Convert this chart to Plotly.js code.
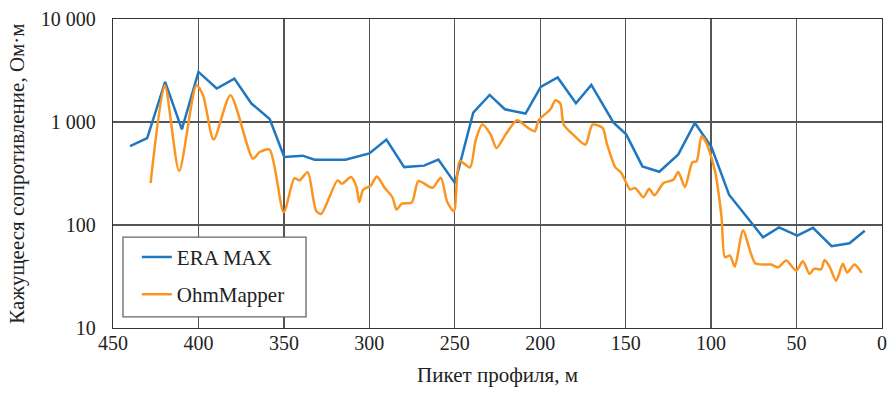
<!DOCTYPE html>
<html>
<head>
<meta charset="utf-8">
<script src="https://cdn.plot.ly/plotly-3.0.1.min.js"></script>
<style>html,body{margin:0;padding:0;background:#fff;}#chart{width:889px;height:396px;}</style>
</head>
<body>
<div id="chart"></div>
<script>
// ERA MAX
const eraX = [440, 430, 419.5, 409.7, 400, 389.3, 379, 369, 358.3, 349.8, 339, 332, 314, 300, 290, 279.6, 268, 259.6, 249.9, 239.2, 229.6, 220.7, 208.6, 199.7, 189.8, 179.1, 170.1, 157.1, 149.7, 140.2, 130.3, 119.2, 109.5, 99.8, 89.5, 69.6, 60.3, 49.6, 40.4, 29.5, 19, 10.1];
const eraY = [584, 699, 2450, 849, 3063, 2113, 2642, 1511, 1069, 457, 471, 431, 431, 496, 675, 365, 377, 431, 255, 1234, 1832, 1329, 1207, 2190, 2704, 1520, 2292, 987, 759, 371, 329, 485, 978, 571, 197, 76, 94.6, 79, 94, 62.2, 66.5, 88];

// OhmMapper
const ohmX = [428.0, 419.7, 411.3, 401.2, 397.3, 391.1, 381.3, 368.1, 364.2, 358.4, 350.1, 343.8, 340.9, 336.1, 331.2, 328.2, 318.6, 316, 310.7, 307.5, 305.9, 303.6, 299.1, 295.6, 291.3, 286.5, 284.1, 281, 275.1, 271.3, 263.1, 258.2, 254.4, 250.5, 247.1, 241.1, 237.8, 233.9, 229, 225.6, 220.3, 213.5, 207.1, 203.2, 200.9, 194, 191.1, 188.2, 186.3, 181.4, 173.6, 169.4, 163.5, 161, 156.1, 152.6, 147.4, 144.5, 139.6, 136.3, 133.2, 127.9, 122.1, 119.2, 115.3, 111, 108.5, 105.6, 102.6, 97.8, 93.9, 91.9, 89, 86.1, 81.3, 74.1, 64.8, 60.9, 56, 50.2, 46.3, 42.4, 39.8, 35.6, 33.6, 30.7, 26.8, 22.9, 20.4, 16.1, 11.9];
const ohmY = [255, 2275, 334, 2275, 1820, 675, 1820, 440, 511, 539, 133, 285, 271, 326, 138, 128, 271, 252, 292, 233, 167, 220, 242, 296, 233, 186, 141, 161, 166, 267, 230, 288, 167, 136, 418, 362, 664, 944, 754, 558, 754, 1040, 875, 812, 1040, 1330, 1627, 1510, 944, 771, 603, 944, 875, 617, 365, 322, 221, 229, 186, 225, 194, 255, 275, 327, 233, 406, 415, 726, 617, 339, 119, 48.6, 50.5, 39.4, 88.5, 42.5, 41.3, 38.8, 45.2, 36.1, 44.5, 33.5, 37.5, 37.2, 45.8, 39.4, 28.8, 42, 34.5, 41.3, 34.3];

const yTickVals = [10, 100, 1000, 10000];
const yTickText = ['10', '100', '1 000', '10 000'];
const xTickVals = [450, 400, 350, 300, 250, 200, 150, 100, 50, 0];

const FONT = '"Liberation Serif", "Times New Roman", serif';

const traces = [
  {x: eraX, y: eraY, name: 'ERA MAX', type: 'scatter', mode: 'lines',
   line: {color: '#1f77c0', width: 2.5}, legendgroup: 'a'},
  {x: ohmX, y: ohmY, name: 'OhmMapper', type: 'scatter', mode: 'lines',
   line: {color: '#fb951f', width: 2.5, shape: 'spline', smoothing: 0.7}, legendgroup: 'b'}
];

const layout = {
  width: 889, height: 396,
  margin: {l: 113, r: 7, t: 19, b: 68},
  paper_bgcolor: '#fff', plot_bgcolor: '#fff',
  font: {family: FONT, size: 20, color: '#222'},
  showlegend: true,
  legend: {x: 0.031, y: 0.295, xanchor: 'left', yanchor: 'top',
    bgcolor: 'rgba(0,0,0,0)', borderwidth: 0,
    font: {family: FONT, size: 21, color: '#222'},
    traceorder: 'grouped', tracegroupgap: 7},
  xaxis: {range: [450, 0], tickvals: xTickVals, showgrid: true, gridcolor: '#555', gridwidth: 1.3,
    zeroline: false, showline: true, linecolor: '#333', linewidth: 1.3, mirror: true, ticks: '',
    ticklabelstandoff: -3,
    tickfont: {family: FONT, size: 20, color: '#222'},
    title: {text: 'Пикет профиля, м', font: {family: FONT, size: 21, color: '#222'}, standoff: 14}},
  yaxis: {type: 'log', range: [1, 4], tickvals: yTickVals, ticktext: yTickText, showgrid: true,
    gridcolor: '#555', gridwidth: 1.3, zeroline: false, showline: true, linecolor: '#333', linewidth: 1.3,
    mirror: true, ticks: '', ticklabelstandoff: 12,
    tickfont: {family: FONT, size: 20, color: '#222'},
    title: {text: 'Кажущееся сопротивление, Ом·м', font: {family: FONT, size: 21, color: '#222'}, standoff: 10}},
  shapes: [{type: 'rect', xref: 'paper', yref: 'paper', x0: 0.013, x1: 0.251, y0: 0.036, y1: 0.294,
    line: {color: '#666', width: 1.3}, fillcolor: '#fff', layer: 'above'}]
};

Plotly.newPlot('chart', traces, layout, {displayModeBar: false, staticPlot: true});
</script>
</body>
</html>
